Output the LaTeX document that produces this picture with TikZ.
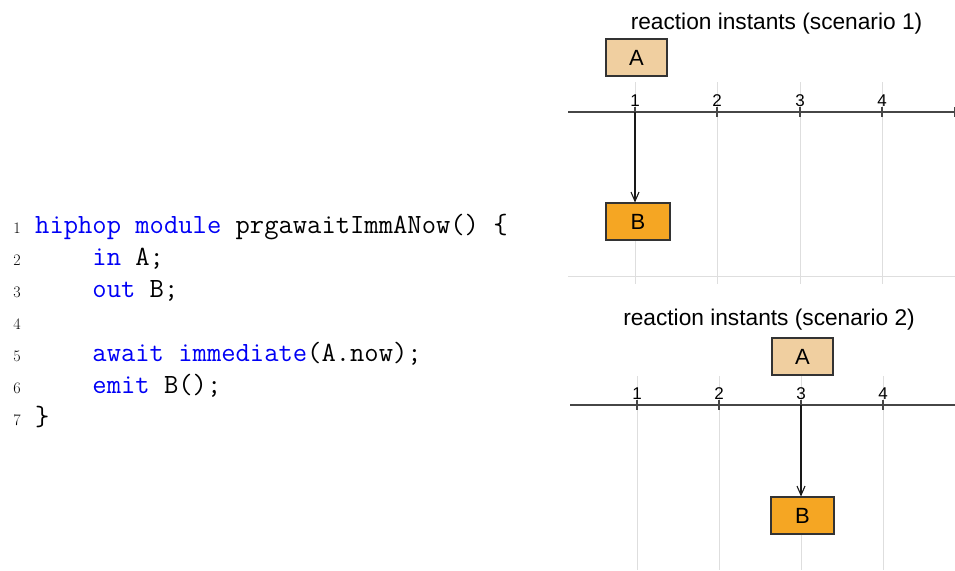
\documentclass[tikz,border=0pt]{standalone}
\usepackage{fontspec}
\newfontfamily\chartfont{Liberation Sans}
\usetikzlibrary{arrows.meta}
\definecolor{kw}{RGB}{0,0,245}
\definecolor{lightA}{RGB}{240,207,160}
\definecolor{darkB}{RGB}{245,166,35}
\definecolor{gridc}{RGB}{222,222,222}
\definecolor{axisc}{RGB}{70,70,70}
\tikzset{
  codeline/.style={anchor=base west,inner sep=0pt,font=\fontsize{27.8}{30}\ttfamily},
  lineno/.style={anchor=base east,inner sep=0pt,font=\fontsize{16}{17}\selectfont},
  title/.style={anchor=base,inner sep=0pt,font=\chartfont\fontsize{22.7}{24}\selectfont},
  ticklabel/.style={anchor=base,inner sep=0pt,font=\chartfont\fontsize{17}{18}\selectfont},
  sigbox/.style={draw=black!80,line width=1.1pt,minimum width=61pt,minimum height=37pt,inner sep=0pt,font=\chartfont\fontsize{22}{24}\selectfont},
  boxA/.style={sigbox,fill=lightA},
  boxB/.style={sigbox,fill=darkB,minimum width=64pt},
  gridline/.style={draw=gridc,line width=1pt},
  axisline/.style={draw=axisc,line width=1.2pt},
  flow/.style={draw=black!90,line width=1.1pt,-{Straight Barb[length=9pt,width=8pt]}}
}
\begin{document}
\begin{tikzpicture}[x=1pt,y=-1pt]
\useasboundingbox (0,0) rectangle (955,570);
% code
\node[lineno] (n1) at (21,233) {1};
\node[lineno] (n2) at (21,265) {2};
\node[lineno] (n3) at (21,297) {3};
\node[lineno] (n4) at (21,329) {4};
\node[lineno] (n5) at (21,361) {5};
\node[lineno] (n6) at (21,393) {6};
\node[lineno] (n7) at (21,425) {7};
\node[codeline] (c1) at (35,233) {\textcolor{kw}{hiphop module} prgawaitImmANow() \{};
\node[codeline] (c2) at (35,265) {\phantom{xxxx}\textcolor{kw}{in} A;};
\node[codeline] (c3) at (35,297) {\phantom{xxxx}\textcolor{kw}{out} B;};
\node[codeline] (c5) at (35,361) {\phantom{xxxx}\textcolor{kw}{await immediate}(A.now);};
\node[codeline] (c6) at (35,393) {\phantom{xxxx}\textcolor{kw}{emit} B();};
\node[codeline] (c7) at (35,425) {\}};
% scenario 1
\foreach \x in {635,717,800,882} \draw[gridline] (\x,82) -- (\x,284);
\draw[gridline] (568,276) -- (955,276);
\draw[axisline] (568,112) -- (955,112);
\foreach \x/\l in {635/1,717/2,800/3,882/4} {
  \draw[axisline] (\x,107) -- (\x,117);
  \node[ticklabel] (ta\l) at (\x,106) {\l};
}
\draw[axisline] (954.4,107) -- (954.4,117);
\coordinate (t1) at (635,112);
\node[title] (title1) at (776.5,29) {reaction instants (scenario 1)};
\node[boxA] (a1) at (636.5,57.5) {A};
\node[boxB] (b1) at (638,221.5) {B};
\draw[flow] (t1) -- (t1 |- b1.north);
% scenario 2
\foreach \x in {637,719,801,883} \draw[gridline] (\x,376) -- (\x,570);
\draw[axisline] (570,405) -- (955,405);
\foreach \x/\l in {637/1,719/2,801/3,883/4} {
  \draw[axisline] (\x,400) -- (\x,410);
  \node[ticklabel] (tb\l) at (\x,399) {\l};
}
\coordinate (t2) at (801,405);
\node[title] (title2) at (769,325) {reaction instants (scenario 2)};
\node[boxA] (a2) at (802.5,356.5) {A};
\node[boxB,minimum width=63pt] (b2) at (802.5,515.5) {B};
\draw[flow] (t2) -- (t2 |- b2.north);
\end{tikzpicture}
\end{document}
